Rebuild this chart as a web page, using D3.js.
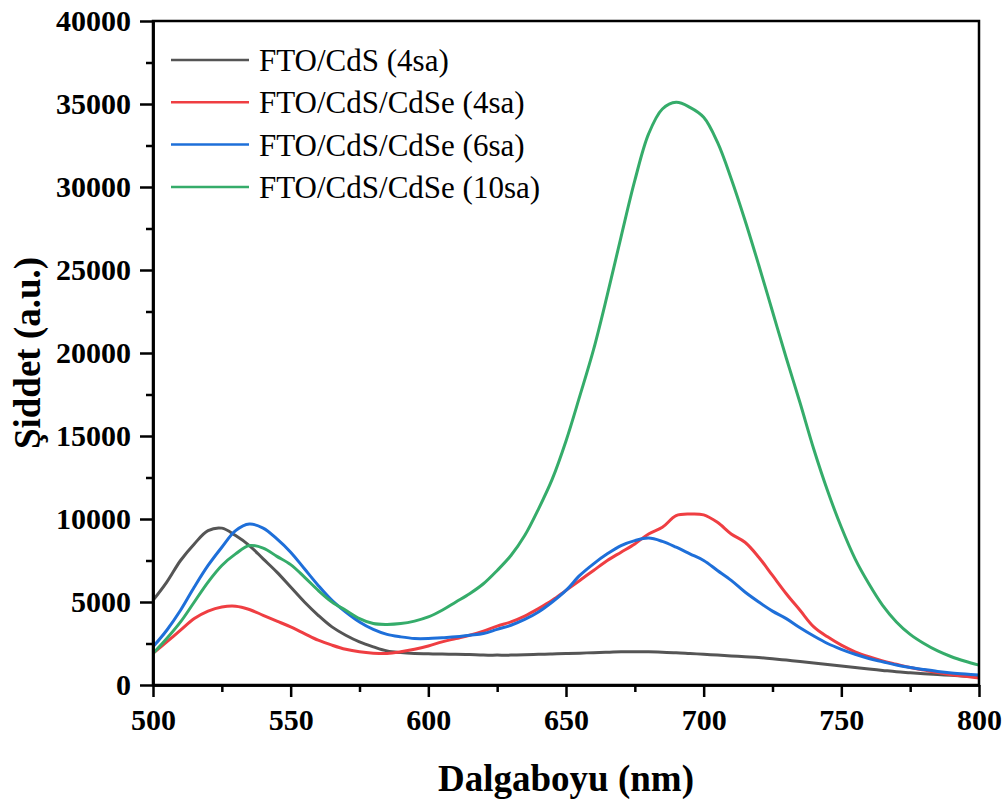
<!DOCTYPE html>
<html>
<head>
<meta charset="utf-8">
<script src="https://cdn.jsdelivr.net/npm/d3@7"></script>
<style>
  body { margin: 0; background: #fff; }
  text { font-family: "Liberation Serif", "Times New Roman", serif; }
</style>
</head>
<body>
<div id="visual"></div>
<script>
// wavelength grid (nm)
var wavelengths = [500,505,510,515,520,525,530,535,540,545,550,555,560,565,570,575,580,585,590,595,
  600,605,610,615,620,625,630,635,640,645,650,655,660,665,670,675,680,685,690,695,
  700,705,710,715,720,725,730,735,740,745,750,755,760,765,770,775,780,785,790,795,800];

var cds4 = [5100,6200,7500,8500,9300,9450,9000,8400,7600,6800,5900,5000,4200,3500,3000,2600,2300,2050,1950,1900,
  1880,1860,1850,1830,1800,1800,1800,1820,1850,1870,1900,1920,1950,1970,2000,2000,2000,1980,1950,1900,
  1850,1800,1750,1700,1650,1580,1500,1420,1330,1240,1140,1050,960,880,800,740,680,630,580,530,480];

var cdse4 = [1900,2600,3300,4000,4450,4700,4750,4550,4200,3850,3500,3100,2700,2400,2150,2000,1920,1900,2000,2150,
  2350,2600,2800,3000,3250,3550,3800,4150,4600,5100,5700,6300,6900,7500,8000,8500,9100,9500,10200,10300,
  10250,9800,9100,8600,7700,6600,5500,4500,3500,2900,2400,2000,1700,1450,1250,1050,900,750,620,520,420];

var cdse6 = [2300,3300,4500,5900,7200,8300,9300,9700,9450,8800,8000,7000,6000,5100,4400,3800,3350,3050,2900,2800,
  2800,2850,2900,3000,3100,3350,3600,3950,4400,5000,5700,6600,7300,7900,8400,8700,8850,8650,8300,7900,
  7500,6900,6300,5600,5000,4450,4000,3450,2950,2500,2150,1850,1600,1400,1200,1050,930,820,730,660,600];

var cdse10 = [1900,2800,3800,5000,6200,7200,7900,8400,8250,7750,7250,6500,5700,5000,4500,4000,3700,3650,3700,3850,
  4100,4500,5000,5500,6100,6900,7800,9000,10600,12400,14700,17400,20200,23500,27000,30400,33200,34700,35100,34800,
  34200,32700,30500,28000,25300,22500,19700,17000,14200,11700,9500,7600,6100,4800,3800,3050,2500,2050,1700,1430,1200];

var seriesNames = ["FTO/CdS (4sa)", "FTO/CdS/CdSe (4sa)", "FTO/CdS/CdSe (6sa)", "FTO/CdS/CdSe (10sa)"];
var seriesColors = ["#555555", "#ef3e42", "#1e6fd9", "#35ac6a"];
var seriesValues = [cds4, cdse4, cdse6, cdse10];

var xTicks = [500, 550, 600, 650, 700, 750, 800];
var xMinor = [525, 575, 625, 675, 725, 775];
var yTicks = [0, 5000, 10000, 15000, 20000, 25000, 30000, 35000, 40000];
var yMinor = [2500, 7500, 12500, 17500, 22500, 27500, 32500, 37500];

var width = 1007, height = 802;
var plotLeft = 153, plotRight = 979, plotTop = 21, plotBottom = 685;

var svg = d3.select("#visual").append("svg")
  .attr("width", width)
  .attr("height", height);

var x = d3.scaleLinear().domain([500, 800]).range([plotLeft, plotRight]);
var y = d3.scaleLinear().domain([0, 40000]).range([plotBottom, plotTop]);

// curves
var line = d3.line()
  .x(function(d) { return x(d[0]); })
  .y(function(d) { return y(d[1]); })
  .curve(d3.curveCatmullRom.alpha(0.5));

seriesValues.forEach(function(vals, i) {
  var pts = wavelengths.map(function(w, j) { return [w, vals[j]]; });
  svg.append("path")
    .datum(pts)
    .attr("fill", "none")
    .attr("stroke", seriesColors[i])
    .attr("stroke-width", 3)
    .attr("stroke-linejoin", "round")
    .attr("d", line);
});

// frame
svg.append("rect")
  .attr("x", plotLeft).attr("y", plotTop)
  .attr("width", plotRight - plotLeft).attr("height", plotBottom - plotTop)
  .attr("fill", "none")
  .attr("stroke", "#000")
  .attr("stroke-width", 2.5);

// axes
svg.append("g")
  .attr("transform", "translate(0," + plotBottom + ")")
  .call(d3.axisBottom(x).tickValues(xTicks).tickSize(12).tickSizeOuter(0).tickPadding(12).tickFormat(d3.format("d")));
svg.append("g")
  .attr("transform", "translate(0," + plotBottom + ")")
  .call(d3.axisBottom(x).tickValues(xMinor).tickSize(7).tickSizeOuter(0).tickFormat(""));

svg.append("g")
  .attr("transform", "translate(" + plotLeft + ",0)")
  .call(d3.axisLeft(y).tickValues(yTicks).tickSize(13).tickSizeOuter(0).tickPadding(9).tickFormat(d3.format("d")));
svg.append("g")
  .attr("transform", "translate(" + plotLeft + ",0)")
  .call(d3.axisLeft(y).tickValues(yMinor).tickSize(7).tickSizeOuter(0).tickFormat(""));

svg.selectAll(".domain").attr("stroke", "#000").attr("stroke-width", 2.5);
svg.selectAll(".tick line").attr("stroke", "#000").attr("stroke-width", 2.5);
svg.selectAll(".tick text")
  .attr("fill", "#000")
  .style("font-family", "'Liberation Serif', 'Times New Roman', serif")
  .style("font-size", "30px")
  .style("font-weight", "bold");

// axis titles
svg.append("text")
  .attr("x", (plotLeft + plotRight) / 2)
  .attr("y", 791)
  .attr("text-anchor", "middle")
  .style("font-size", "37px")
  .style("font-weight", "bold")
  .text("Dalgaboyu (nm)");

svg.append("text")
  .attr("transform", "translate(40," + ((plotTop + plotBottom) / 2) + ") rotate(-90)")
  .attr("text-anchor", "middle")
  .style("font-size", "37px")
  .style("font-weight", "bold")
  .text("Şiddet (a.u.)");

// legend
var legend = svg.selectAll(".legendItem")
  .data(seriesNames)
  .enter()
  .append("g")
  .attr("class", "legendItem")
  .attr("transform", function(d, i) { return "translate(171," + (60 + i * 42.3) + ")"; });

legend.append("line")
  .attr("x1", 0).attr("x2", 78)
  .attr("y1", 0).attr("y2", 0)
  .attr("stroke", function(d, i) { return seriesColors[i]; })
  .attr("stroke-width", 2.5);

legend.append("text")
  .attr("x", 88)
  .attr("y", 11)
  .style("font-size", "31px")
  .text(function(d) { return d; });
</script>
</body>
</html>
